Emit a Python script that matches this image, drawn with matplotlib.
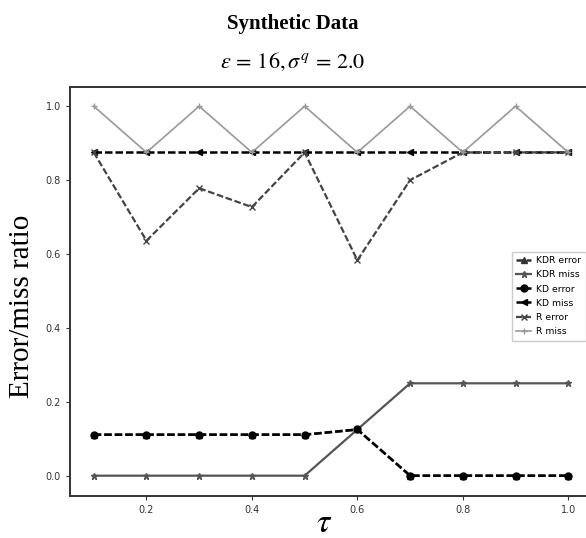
import matplotlib

matplotlib.use("Agg")
import matplotlib.pyplot as plt

tau = [0.1, 0.2, 0.3, 0.4, 0.5, 0.6, 0.7, 0.8, 0.9, 1.0]

kdr_error = [0.111, 0.111, 0.111, 0.111, 0.111, 0.125, 0.0, 0.0, 0.0, 0.0]
kdr_miss = [0.0, 0.0, 0.0, 0.0, 0.0, 0.125, 0.25, 0.25, 0.25, 0.25]
kd_error = [0.111, 0.111, 0.111, 0.111, 0.111, 0.125, 0.0, 0.0, 0.0, 0.0]
kd_miss = [0.875, 0.875, 0.875, 0.875, 0.875, 0.875, 0.875, 0.875, 0.875, 0.875]
r_error = [0.875, 0.636, 0.778, 0.727, 0.875, 0.583, 0.8, 0.875, 0.875, 0.875]
r_miss = [1.0, 0.875, 1.0, 0.875, 1.0, 0.875, 1.0, 0.875, 1.0, 0.875]

W, H = 586, 538
fig = plt.figure(figsize=(W / 100, H / 100), dpi=100)
ax = fig.add_axes([70 / W, 1 - 496 / H, (592 - 70) / W, (496 - 87) / H])

dash = (3.0, 1.2)
ax.plot(tau, kdr_error, color="#333333", ls="--", dashes=dash, lw=1.8, marker="^", ms=4, label="KDR error")
ax.plot(tau, kdr_miss, color="#555555", ls="-", lw=1.6, marker="*", ms=5, label="KDR miss")
ax.plot(tau, kd_error, color="black", ls="--", dashes=dash, lw=1.8, marker="o", ms=5, label="KD error")
ax.plot(tau, kd_miss, color="black", ls="--", dashes=dash, lw=1.8, marker="<", ms=4.5, label="KD miss")
ax.plot(tau, r_error, color="#444444", ls="--", dashes=dash, lw=1.6, marker="x", ms=5, label="R error")
ax.plot(tau, r_miss, color="#999999", ls="-", lw=1.2, marker="+", ms=4, label="R miss")

ax.set_xlim(0.055, 1.045)
ax.set_ylim(-0.055, 1.052)
ax.set_xticks([0.2, 0.4, 0.6, 0.8, 1.0])
ax.set_yticks([0.0, 0.2, 0.4, 0.6, 0.8, 1.0])
ax.tick_params(labelsize=7, length=3, width=0.8, colors="#333333")
for spine in ax.spines.values():
    spine.set_linewidth(1.4)
    spine.set_color("#333333")

fig.text(0.5, 1 - 24 / H, "Synthetic Data", ha="center", va="center",
         family="Liberation Serif", fontweight="bold", fontsize=15)
fig.text(0.5, 1 - 62 / H, r"$\varepsilon\,=\,16,\sigma^q\,=\,2.0$", ha="center", va="center",
         fontsize=16, math_fontfamily="stix")
fig.text(22 / W, 1 - 306 / H, "Error/miss ratio", rotation=90, ha="center", va="center",
         family="Liberation Serif", fontsize=21)
fig.text(324 / W, 1 - 522 / H, r"$\tau$", ha="center", va="center",
         fontsize=24, math_fontfamily="stix")

ax.legend(loc="upper left", bbox_to_anchor=(507 / W, 1 - 247 / H), bbox_transform=fig.transFigure,
          fontsize=6.7, handlelength=1.6, handletextpad=0.5, labelspacing=0.55,
          borderpad=0.5, fancybox=False, framealpha=1, edgecolor="#cccccc")

fig.savefig("out.png", dpi=100)
